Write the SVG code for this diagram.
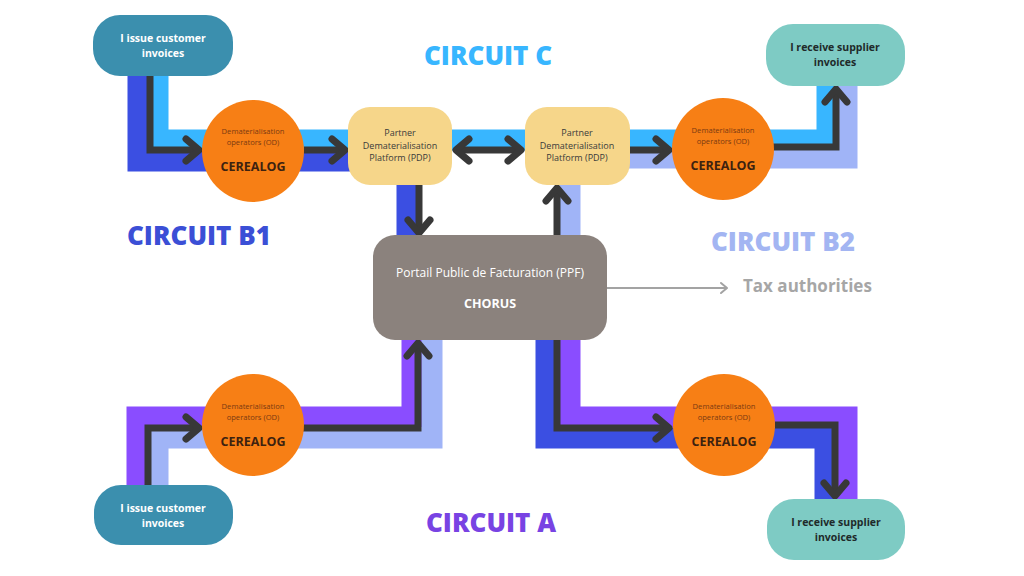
<svg xmlns="http://www.w3.org/2000/svg" width="1024" height="576" viewBox="0 0 1024 576">
<style>
.band{fill:none;stroke-width:21;stroke-linejoin:miter;stroke-linecap:butt}
.c{stroke:#38b6ff}.b1{stroke:#3b4fe2}.b2{stroke:#a0b4f7}.a{stroke:#8a4dff}
.arr{fill:none;stroke:#383838;stroke-width:7;stroke-linejoin:miter;stroke-linecap:butt}
.t{font-family:"Open Sans","Liberation Sans",sans-serif;text-anchor:middle}
.title{font-family:"Open Sans","Liberation Sans",sans-serif;font-weight:800;font-size:26px}
.pilltxt{font-weight:700;font-size:10.5px}
.od{font-size:7.6px;fill:#7a3a12}
.cer{font-size:12.5px;font-weight:700;fill:#3d2210}
.pdp{font-size:9px;fill:#3a3a3a}
</style>
<defs>
<marker id="ah" markerUnits="userSpaceOnUse" viewBox="-20 -16 24 32" refX="0" refY="0" markerWidth="24" markerHeight="32" orient="auto-start-reverse">
<path d="M-13 -11 L0 0 L-13 11" fill="none" stroke="#383838" stroke-width="7" stroke-linecap="round" stroke-linejoin="round"/>
</marker>
<marker id="gh" markerUnits="userSpaceOnUse" viewBox="-10 -8 12 16" refX="0" refY="0" markerWidth="12" markerHeight="16" orient="auto">
<path d="M-6 -5 L0 0 L-6 5" fill="none" stroke="#a3a3a3" stroke-width="2" stroke-linecap="round" stroke-linejoin="round"/>
</marker>
</defs>
<rect width="1024" height="576" fill="#ffffff"/>
<g id="connectors">
<path class="band b1" d="M138 60 V161 H407 V245"/>
<path class="band c" d="M158 60 V140 H827 V70"/>
<path class="band b2" d="M570 245 V158 H847 V70"/>
<path class="band a" d="M137 500 V417 H412 V330"/>
<path class="band b2" d="M158 500 V438 H432 V330"/>
<path class="band b1" d="M546 330 V438 H825 V510"/>
<path class="band a" d="M570 330 V417 H847 V510"/>
<path class="arr" d="M150 76 V150 H199" marker-end="url(#ah)"/>
<path class="arr" d="M304 150 H345" marker-end="url(#ah)"/>
<path class="arr" d="M419 185 V233" marker-end="url(#ah)"/>
<path class="arr" d="M456 150 H521" marker-start="url(#ah)" marker-end="url(#ah)"/>
<path class="arr" d="M557 236 V188" marker-end="url(#ah)"/>
<path class="arr" d="M630 150 H669" marker-end="url(#ah)"/>
<path class="arr" d="M773 147 H836 V89" marker-end="url(#ah)"/>
<path class="arr" d="M148 486 V428 H199" marker-end="url(#ah)"/>
<path class="arr" d="M303 428 H418 V343" marker-end="url(#ah)"/>
<path class="arr" d="M557 339 V428 H669" marker-end="url(#ah)"/>
<path class="arr" d="M775 425 H835 V496" marker-end="url(#ah)"/>
<path d="M607 288 H727" fill="none" stroke="#a3a3a3" stroke-width="2.2" marker-end="url(#gh)"/>
</g>
<g id="issuer-top">
<rect x="93" y="15" width="140" height="61" rx="27" fill="#3b8fae"/>
<text class="t pilltxt" x="163" y="42" fill="#ffffff">I issue customer</text>
<text class="t pilltxt" x="163" y="57" fill="#ffffff">invoices</text>
</g>
<g id="issuer-bottom">
<rect x="94" y="485" width="139" height="60" rx="27" fill="#3b8fae"/>
<text class="t pilltxt" x="163" y="512" fill="#ffffff">I issue customer</text>
<text class="t pilltxt" x="163" y="527" fill="#ffffff">invoices</text>
</g>
<g id="receiver-top">
<rect x="766" y="24" width="139" height="62" rx="27" fill="#7ecbc4"/>
<text class="t pilltxt" x="835" y="51" fill="#1f2a2a">I receive supplier</text>
<text class="t pilltxt" x="835" y="66" fill="#1f2a2a">invoices</text>
</g>
<g id="receiver-bottom">
<rect x="767" y="499" width="138" height="61" rx="27" fill="#7ecbc4"/>
<text class="t pilltxt" x="836" y="526" fill="#1f2a2a">I receive supplier</text>
<text class="t pilltxt" x="836" y="541" fill="#1f2a2a">invoices</text>
</g>
<g id="od-top-left">
<circle cx="253" cy="151" r="51" fill="#f77f15"/>
<text class="t od" x="253" y="134">Dematerialisation</text>
<text class="t od" x="253" y="145">operators (OD)</text>
<text class="t cer" x="253" y="171">CEREALOG</text>
</g>
<g id="od-top-right">
<circle cx="723" cy="149" r="51" fill="#f77f15"/>
<text class="t od" x="723" y="133">Dematerialisation</text>
<text class="t od" x="723" y="144">operators (OD)</text>
<text class="t cer" x="723" y="170">CEREALOG</text>
</g>
<g id="od-bottom-left">
<circle cx="253" cy="425" r="51" fill="#f77f15"/>
<text class="t od" x="253" y="409">Dematerialisation</text>
<text class="t od" x="253" y="420">operators (OD)</text>
<text class="t cer" x="253" y="446">CEREALOG</text>
</g>
<g id="od-bottom-right">
<circle cx="724" cy="425" r="51" fill="#f77f15"/>
<text class="t od" x="724" y="409">Dematerialisation</text>
<text class="t od" x="724" y="420">operators (OD)</text>
<text class="t cer" x="724" y="446">CEREALOG</text>
</g>
<g id="pdp-left">
<rect x="348" y="107" width="104" height="78" rx="22" fill="#f6d68a"/>
<text class="t pdp" x="400" y="136">Partner</text>
<text class="t pdp" x="400" y="149">Dematerialisation</text>
<text class="t pdp" x="400" y="161">Platform (PDP)</text>
</g>
<g id="pdp-right">
<rect x="525" y="107" width="105" height="78" rx="22" fill="#f6d68a"/>
<text class="t pdp" x="577" y="136">Partner</text>
<text class="t pdp" x="577" y="149">Dematerialisation</text>
<text class="t pdp" x="577" y="161">Platform (PDP)</text>
</g>
<g id="chorus">
<rect x="373" y="235" width="234" height="105" rx="22" fill="#8b827d"/>
<text class="t" x="490" y="277" font-size="12" fill="#ffffff">Portail Public de Facturation (PPF)</text>
<text class="t" x="490" y="308" font-size="12.5" font-weight="700" fill="#ffffff">CHORUS</text>
</g>
<g id="tax">
<text x="743" y="292" font-family="Open Sans, Liberation Sans, sans-serif" font-size="17" font-weight="700" fill="#a6a6a6">Tax authorities</text>
</g>
<g id="labels">
<text class="title" x="424" y="65" fill="#38b6ff">CIRCUIT C</text>
<text class="title" x="127" y="245" fill="#3b4fd6">CIRCUIT B1</text>
<text class="title" x="711" y="251" fill="#a3b5f2">CIRCUIT B2</text>
<text class="title" x="426" y="532" fill="#7843e3">CIRCUIT A</text>
</g>
</svg>
